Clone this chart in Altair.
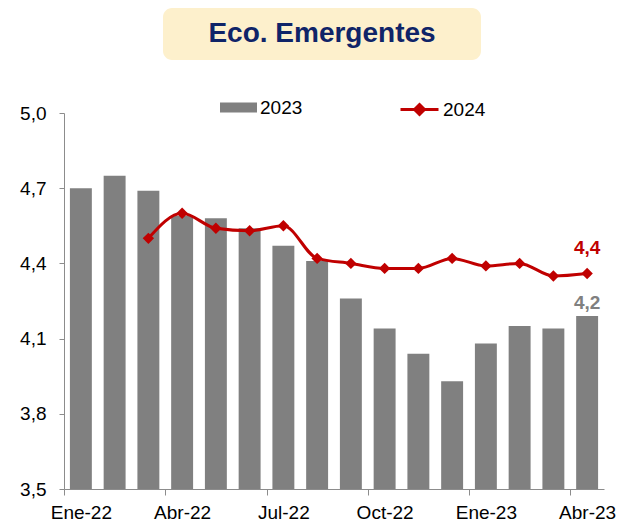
import altair as alt
import pandas as pd

# ---- data ----
months = ["Ene-22", "Feb-22", "Mar-22", "Abr-22", "May-22", "Jun-22", "Jul-22", "Ago-22",
          "Sep-22", "Oct-22", "Nov-22", "Dic-22", "Ene-23", "Feb-23", "Mar-23", "Abr-23"]
serie_2023 = [4.70, 4.75, 4.69, 4.59, 4.58, 4.54, 4.47, 4.41,
              4.26, 4.14, 4.04, 3.93, 4.08, 4.15, 4.14, 4.19]
serie_2024 = [None, None, 4.50, 4.60, 4.54, 4.53, 4.55, 4.42,
              4.40, 4.38, 4.38, 4.42, 4.39, 4.40, 4.35, 4.36]
tick_months = ["Ene-22", "Abr-22", "Jul-22", "Oct-22", "Ene-23", "Abr-23"]
y_ticks = [3.5, 3.8, 4.1, 4.4, 4.7, 5.0]
titulo = "Eco. Emergentes"
series_names = ["2023", "2024"]

GRAY = "#808080"
RED = "#C00000"
FONT = "Liberation Sans Narrow, Liberation Sans, Arial"

bars_df = pd.DataFrame({"mes": months, "valor": serie_2023, "serie": series_names[0]})
line_df = pd.DataFrame({"mes": months, "valor": serie_2024, "serie": series_names[1]}).dropna()
last_bar = bars_df.tail(1)
last_line = line_df.tail(1)
title_df = pd.DataFrame({"t": [titulo]})

W, H = 540, 376
step = W / len(months)

x_enc = alt.X("mes:N", sort=months,
              scale=alt.Scale(paddingInner=0.35, paddingOuter=0.175),
              axis=alt.Axis(values=tick_months, labelAngle=0, title=None, grid=False,
                            tickOffset=-step / 2, labelOffset=step / 2,
                            tickSize=6, tickColor="#8c8c8c", domainColor="#8c8c8c",
                            labelFontSize=19, labelColor="black", labelFont=FONT,
                            labelPadding=8))
y_scale = alt.Scale(domain=[3.5, 5.0], zero=False, nice=False)
y_enc = alt.Y("valor:Q", scale=y_scale,
              axis=alt.Axis(values=y_ticks, title=None, grid=False,
                            labelExpr="replace(format(datum.value,'.1f'),'.',',')",
                            tickSize=5, tickColor="#8c8c8c", domainColor="#8c8c8c",
                            labelFontSize=19, labelColor="black", labelFont=FONT,
                            labelPadding=13))

bars = alt.Chart(bars_df).mark_bar().encode(
    x=x_enc,
    y=y_enc,
    y2=alt.datum(3.5),
    fill=alt.Fill("serie:N", scale=alt.Scale(domain=[series_names[0]], range=[GRAY]),
                  legend=alt.Legend(orient="none", legendX=156, legendY=-24, title=None,
                                    symbolType="M-1,-0.27L1,-0.27L1,0.27L-1,0.27Z",
                                    symbolSize=1369, symbolStrokeWidth=0,
                                    labelFontSize=19, labelFont=FONT, labelColor="black",
                                    labelOffset=3, padding=0)),
)

line = alt.Chart(line_df).mark_line(interpolate="monotone", strokeWidth=3).encode(
    x=alt.X("mes:N", sort=months),
    y=alt.Y("valor:Q", scale=y_scale),
    stroke=alt.Stroke("serie:N", scale=alt.Scale(domain=[series_names[1]], range=[RED]),
                      legend=alt.Legend(orient="none", legendX=335, legendY=-24, title=None,
                                        symbolType="M-1,0L1,0M0,-0.26L0.26,0L0,0.26L-0.26,0Z",
                                        symbolSize=1444, symbolStrokeWidth=3,
                                        symbolFillColor=RED,
                                        labelFontSize=19, labelFont=FONT, labelColor="black",
                                        labelOffset=3, padding=0)),
)

points = alt.Chart(line_df).mark_point(shape="diamond", filled=True, size=130,
                                       color=RED, opacity=1).encode(
    x=alt.X("mes:N", sort=months),
    y=alt.Y("valor:Q", scale=y_scale),
)

lab_line = alt.Chart(last_line).mark_text(fontSize=19, fontWeight="bold", color=RED,
                                          font="Liberation Sans", dy=-25).encode(
    x=alt.X("mes:N", sort=months),
    y=alt.Y("valor:Q", scale=y_scale),
    text=alt.Text("lbl:N"),
).transform_calculate(lbl="replace(format(datum.valor,'.1f'),'.',',')")

lab_bar = alt.Chart(last_bar).mark_text(fontSize=19, fontWeight="bold", color=GRAY,
                                        font="Liberation Sans", dy=-13).encode(
    x=alt.X("mes:N", sort=months),
    y=alt.Y("valor:Q", scale=y_scale),
    text=alt.Text("lbl:N"),
).transform_calculate(lbl="replace(format(datum.valor,'.1f'),'.',',')")

title_box = alt.Chart(title_df).mark_rect(cornerRadius=9, color="#FDF0CC").encode(
    x=alt.value(99), x2=alt.value(417), y=alt.value(-105), y2=alt.value(-53))
title_txt = alt.Chart(title_df).mark_text(fontSize=28, fontWeight="bold", color="#0F2468",
                                          font="Liberation Sans", baseline="middle").encode(
    x=alt.value(258), y=alt.value(-79), text="t:N")

chart = alt.layer(title_box, title_txt, bars, line, points, lab_line, lab_bar).resolve_scale(
    fill="independent", stroke="independent"
).properties(
    width=W, height=H,
    autosize=alt.AutoSizeParams(type="none"),
    padding={"left": 56, "top": 105, "right": 14, "bottom": 34},
    background="white",
).configure_view(stroke=None)

chart.save("out.html", embed_options={"renderer": "svg", "actions": False})
